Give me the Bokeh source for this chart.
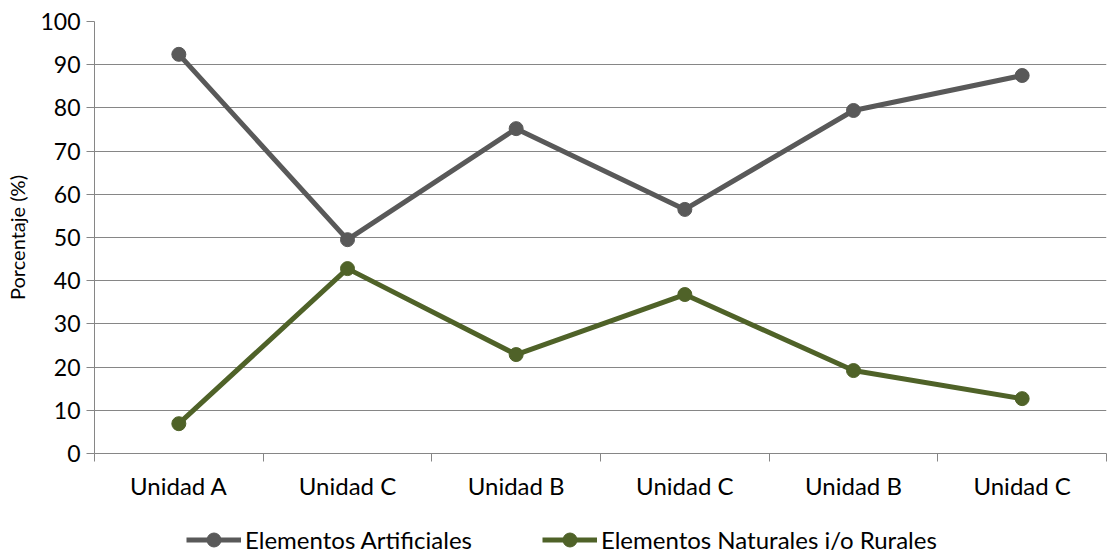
from bokeh.plotting import figure
from bokeh.layouts import column
from bokeh.models import FixedTicker, Legend, LegendItem, Range1d
from bokeh.embed import file_html
from bokeh.resources import INLINE

# Data
categorias = ["Unidad A", "Unidad C", "Unidad B", "Unidad C", "Unidad B", "Unidad C"]
artificiales = [92.4, 49.5, 75.2, 56.5, 79.4, 87.5]
naturales = [6.9, 42.8, 22.9, 36.8, 19.2, 12.7]
series_nombres = ["Elementos Artificiales", "Elementos Naturales i/o Rurales"]
y_ticks = [0, 10, 20, 30, 40, 50, 60, 70, 80, 90, 100]

FONT = "Lato"
AXIS_GREY = "#868686"
GREY = "#595959"
GREEN = "#4F6228"

xs = [i + 0.5 for i in range(len(categorias))]

p = figure(width=1108, height=510, output_backend="svg", toolbar_location=None,
           x_range=Range1d(0, len(categorias)), y_range=Range1d(0, 100),
           min_border_left=94, min_border_right=2, min_border_top=21, min_border_bottom=57)
p.outline_line_color = None
p.background_fill_color = "white"
p.border_fill_color = "white"

# X axis: labels centred in each category, tick marks at category boundaries
p.xaxis.ticker = FixedTicker(ticks=xs, minor_ticks=list(range(len(categorias) + 1)))
p.xaxis.major_label_overrides = {x: c for x, c in zip(xs, categorias)}
p.xaxis.major_tick_out = 0
p.xaxis.major_tick_in = 0
p.xaxis.minor_tick_out = 8
p.xaxis.minor_tick_in = 0
p.xaxis.minor_tick_line_color = AXIS_GREY
p.xaxis.axis_line_color = AXIS_GREY
p.xaxis.major_label_standoff = 9
p.xaxis.major_label_text_font = FONT
p.xaxis.major_label_text_font_size = "24px"
p.xaxis.major_label_text_color = "black"
p.xgrid.grid_line_color = None

# Y axis
p.yaxis.ticker = FixedTicker(ticks=y_ticks)
p.yaxis.minor_tick_line_color = None
p.yaxis.major_tick_out = 8
p.yaxis.major_tick_in = 0
p.yaxis.major_tick_line_color = AXIS_GREY
p.yaxis.axis_line_color = AXIS_GREY
p.yaxis.major_label_standoff = 6
p.yaxis.major_label_text_font = FONT
p.yaxis.major_label_text_font_size = "23px"
p.yaxis.major_label_text_color = "black"
p.yaxis.axis_label = "Porcentaje (%)"
p.yaxis.axis_label_text_font = FONT
p.yaxis.axis_label_text_font_size = "20px"
p.yaxis.axis_label_text_font_style = "normal"
p.yaxis.axis_label_text_color = "black"
p.yaxis.axis_label_standoff = 8
p.ygrid.grid_line_color = AXIS_GREY
p.ygrid.grid_line_width = 1

# Series
p.line(xs, artificiales, line_color=GREY, line_width=5)
p.scatter(xs, artificiales, size=14, fill_color=GREY, line_color=GREY)
p.line(xs, naturales, line_color=GREEN, line_width=5)
p.scatter(xs, naturales, size=14, fill_color=GREEN, line_color=GREEN)

# Legend strip underneath the chart (its renderers sit outside the visible range)
leg = figure(width=1108, height=44, output_backend="svg", toolbar_location=None,
             x_range=Range1d(0, 1), y_range=Range1d(0, 1),
             x_axis_type=None, y_axis_type=None,
             min_border_left=0, min_border_right=0, min_border_top=0, min_border_bottom=0)
leg.outline_line_color = None
leg.grid.grid_line_color = None
items = []
for nombre, color in zip(series_nombres, [GREY, GREEN]):
    rl = leg.line([-10, -9], [-10, -10], line_color=color, line_width=5)
    rs = leg.scatter([-10], [-10], size=14, fill_color=color, line_color=color)
    items.append(LegendItem(label=nombre, renderers=[rl, rs]))

legend = Legend(items=items, location=(92, -3), orientation="horizontal")
legend.border_line_color = None
legend.background_fill_alpha = 0
legend.label_text_font = FONT
legend.label_text_font_size = "24px"
legend.label_text_color = "black"
legend.glyph_width = 55
legend.glyph_height = 35
legend.label_standoff = 4
legend.spacing = 70
legend.padding = 0
legend.margin = 0
leg.add_layout(legend, "center")

layout = column(p, leg, spacing=0)
open("out.html", "w").write(file_html(layout, INLINE))
